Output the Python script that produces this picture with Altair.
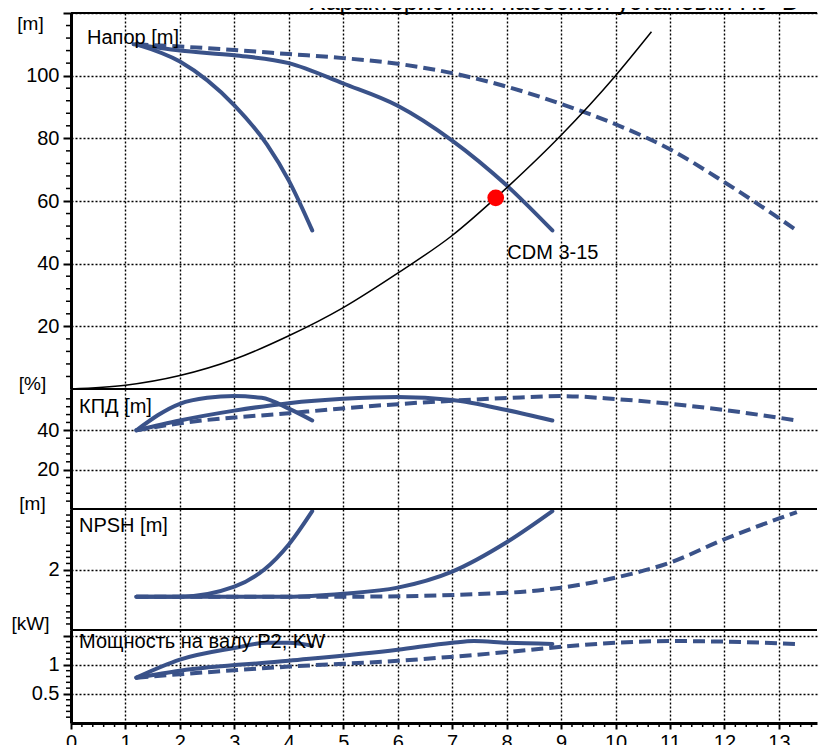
import altair as alt
import pandas as pd

# ---------------- data ----------------
# Head (Напор), m
head_A_q = [1.2, 2.0, 3.0, 3.6, 4.0, 4.43]
head_A_v = [110, 104.5, 90.5, 78, 66.5, 50.6]
head_B_q = [1.15, 2.0, 3.0, 4.0, 5.0, 6.0, 7.0, 8.0, 8.84]
head_B_v = [110, 108, 106.5, 104, 97.5, 90.4, 79.3, 65, 50.6]
head_C_q = [1.2, 2.0, 3.0, 4.0, 5.0, 6.0, 7.0, 8.0, 9.0, 10.0, 11.0, 12.0, 13.33]
head_C_v = [110, 109.3, 108.2, 106.9, 105.6, 103.8, 100.8, 96.5, 91, 84.5, 76.5, 66, 50.6]
sys_q = [0, 1, 2, 3, 4, 5, 6, 7, 7.8, 8.05, 9, 10, 10.66]
sys_v = [0, 1.2, 4.3, 9.5, 17, 26, 37, 49, 61, 65, 81, 100, 114]
duty_q = [7.8]
duty_v = [61]

# Efficiency (КПД), %
eff_A_q = [1.2, 2.0, 2.5, 3.0, 3.5, 4.0, 4.43]
eff_A_v = [40, 53.5, 56.5, 57.4, 56.5, 51, 45]
eff_B_q = [1.2, 2.0, 3.0, 4.0, 5.0, 6.0, 7.0, 8.0, 8.84]
eff_B_v = [40, 45, 50, 53.8, 56, 56.9, 55.4, 50.3, 45]
eff_C_q = [1.2, 2.0, 4.0, 6.0, 8.0, 9.0, 10.0, 11.0, 12.0, 13.33]
eff_C_v = [40, 43.6, 48.7, 53.3, 56.4, 57.4, 55.9, 53.5, 50.3, 45]

# NPSH, m
npsh_A_q = [1.2, 2.0, 3.0, 3.55, 4.0, 4.43]
npsh_A_v = [1.1, 1.1, 1.43, 2.0, 2.83, 3.93]
npsh_B_q = [1.2, 4.0, 5.0, 6.0, 7.0, 8.0, 8.84]
npsh_B_v = [1.1, 1.1, 1.2, 1.4, 1.93, 2.9, 3.93]
npsh_C_q = [1.2, 5.0, 8.0, 9.0, 10.0, 11.0, 12.0, 13.33]
npsh_C_v = [1.1, 1.1, 1.23, 1.4, 1.73, 2.23, 3.0, 3.9]

# Shaft power P2, kW
pow_A_q = [1.2, 2.0, 3.0, 3.6, 4.0, 4.43]
pow_A_v = [0.78, 1.09, 1.29, 1.38, 1.38, 1.33]
pow_B_q = [1.2, 2.0, 4.0, 6.0, 7.0, 7.4, 8.0, 8.84]
pow_B_v = [0.78, 0.9, 1.07, 1.26, 1.38, 1.41, 1.38, 1.36]
pow_C_q = [1.2, 4.0, 6.0, 8.0, 9.0, 10.0, 11.0, 12.0, 13.33]
pow_C_v = [0.78, 0.97, 1.07, 1.22, 1.31, 1.38, 1.41, 1.4, 1.36]

x_ticks = list(range(0, 14))
title_text = "Характеристики насосной установки НУ-Б"

# ---------------- styling ----------------
BLUE = "#3a5289"
FONT = "Liberation Sans"
W = 746
XMAX = 13.7
xscale = alt.Scale(domain=[0, XMAX], nice=False, zero=False)


def curve_df(q, v):
    return pd.DataFrame({"Q": q, "v": v, "o": list(range(len(q)))})


def panel(curves, ydomain, height, ylabels, ygrid, ytitle, tx, ty,
          minor, label, lx, ly, last=False, extra=None):
    yscale = alt.Scale(domain=ydomain, nice=False, zero=False)
    labelexpr = "indexof(%s, datum.value) >= 0 ? ('' + datum.value) : ''" % str(ylabels)
    xaxis = alt.Axis(values=x_ticks, grid=True, gridDash=[2, 2], gridColor="black",
                     gridWidth=1.4, gridOpacity=1,
                     labels=last, ticks=last, domain=last, title=None,
                     tickSize=6, tickWidth=2, tickColor="black",
                     domainWidth=3, domainColor="black",
                     labelFont=FONT, labelFontSize=20, labelColor="black",
                     labelPadding=3, labelFlush=False)
    yaxis = alt.Axis(values=ygrid, grid=True, gridDash=[2, 2], gridColor="black",
                     gridWidth=1.4, gridOpacity=1, labelExpr=labelexpr,
                     tickSize=8, tickWidth=2, tickColor="black",
                     domainWidth=3, domainColor="black",
                     labelFont=FONT, labelFontSize=20, labelColor="black",
                     labelPadding=4,
                     title=ytitle, titleAngle=0, titleFont=FONT, titleFontSize=19,
                     titleFontWeight="normal", titleColor="black",
                     titleAlign="center", titleBaseline="middle",
                     titleX=tx, titleY=ty)
    X = lambda f: alt.X(f, scale=xscale, axis=xaxis)
    Y = lambda f: alt.Y(f, scale=yscale, axis=yaxis)
    layers = []
    for q, v, dashed in curves:
        mk = dict(color=BLUE, strokeWidth=4, strokeCap="round", strokeJoin="round",
                  interpolate="monotone")
        if dashed:
            mk["strokeDash"] = [12, 6]
            mk["strokeCap"] = "butt"
        layers.append(alt.Chart(curve_df(q, v)).mark_line(**mk).encode(
            x=X("Q:Q"), y=Y("v:Q"), order="o:Q"))
    if extra:
        layers.extend(extra(X, Y))
    # minor ticks on the left axis
    layers.append(alt.Chart(pd.DataFrame({"t": minor})).mark_rule(
        color="black", strokeWidth=1.5).encode(
        y=Y("t:Q"), x=alt.value(-5), x2=alt.value(0)))
    # panel top frame line
    layers.append(alt.Chart(pd.DataFrame({"a": [0]})).mark_rule(
        color="black", strokeWidth=2).encode(
        x=alt.value(0), x2=alt.value(W), y=alt.value(0)))
    # panel label
    layers.append(alt.Chart(pd.DataFrame({"s": [label]})).mark_text(
        align="left", baseline="middle", font=FONT, fontSize=20, color="black").encode(
        text="s:N", x=alt.value(lx), y=alt.value(ly)))
    if last:
        xm = [round(i * 0.2, 1) for i in range(0, 69) if i % 5 != 0]
        layers.append(alt.Chart(pd.DataFrame({"m": xm})).mark_rule(
            color="black", strokeWidth=1.5).encode(
            x=X("m:Q"), y=alt.value(height), y2=alt.value(height + 4)))
    return alt.layer(*layers).properties(width=W, height=height)


def head_extra(X, Y):
    sysc = alt.Chart(curve_df(sys_q, sys_v)).mark_line(
        color="black", strokeWidth=1.5, interpolate="monotone").encode(
        x=X("Q:Q"), y=Y("v:Q"), order="o:Q")
    duty = alt.Chart(pd.DataFrame({"Q": duty_q, "v": duty_v})).mark_circle(
        color="#ff0000", opacity=1, size=280).encode(x=X("Q:Q"), y=Y("v:Q"))
    name = alt.Chart(pd.DataFrame({"s": ["CDM 3-15"], "Q": [8.85], "v": [43.3]})).mark_text(
        align="center", baseline="middle", font=FONT, fontSize=20, color="black").encode(
        text="s:N", x=X("Q:Q"), y=Y("v:Q"))
    title = alt.Chart(pd.DataFrame({"s": [title_text]})).mark_text(
        align="left", baseline="alphabetic", font=FONT, fontSize=25, color="black",
        limit=505, ellipsis="").encode(
        text="s:N", x=alt.value(238), y=alt.value(-3))
    return [sysc, duty, name, title]


p1 = panel([(head_A_q, head_A_v, False), (head_B_q, head_B_v, False),
            (head_C_q, head_C_v, True)],
           [0, 120], 376, [20, 40, 60, 80, 100], [20, 40, 60, 80, 100, 120],
           "[m]", -41, 10, [i * 4 for i in range(0, 31) if i % 5 != 0],
           "Напор [m]", 16, 25, extra=head_extra)
p2 = panel([(eff_A_q, eff_A_v, False), (eff_B_q, eff_B_v, False),
            (eff_C_q, eff_C_v, True)],
           [0, 61], 120, [20, 40], [20, 40], "[%]", -39, -6,
           [i * 4 for i in range(0, 16) if i % 5 != 0], "КПД [m]", 8, 18)
p3 = panel([(npsh_A_q, npsh_A_v, False), (npsh_B_q, npsh_B_v, False),
            (npsh_C_q, npsh_C_v, True)],
           [0, 4], 121, [2], [2], "[m]", -39, -6,
           [round(i * 0.2, 1) for i in range(0, 20) if i % 5 != 0], "NPSH [m]", 8, 17)
p4 = panel([(pow_A_q, pow_A_v, False), (pow_B_q, pow_B_v, False),
            (pow_C_q, pow_C_v, True)],
           [0, 1.6], 93, [0.5, 1], [0.5, 1, 1.5], "[kW]", -41, -7,
           [round(i * 0.1, 1) for i in range(0, 16) if i % 5 != 0],
           "Мощность на валу P2, KW", 8, 12, last=True)

chart = alt.vconcat(p1, p2, p3, p4, spacing=0, bounds="flush").properties(
    padding={"left": 3, "top": -18, "right": 0, "bottom": 0},
    background="white"
).configure_view(stroke=None)

chart.save("out.html", embed_options={"renderer": "svg", "actions": False})
